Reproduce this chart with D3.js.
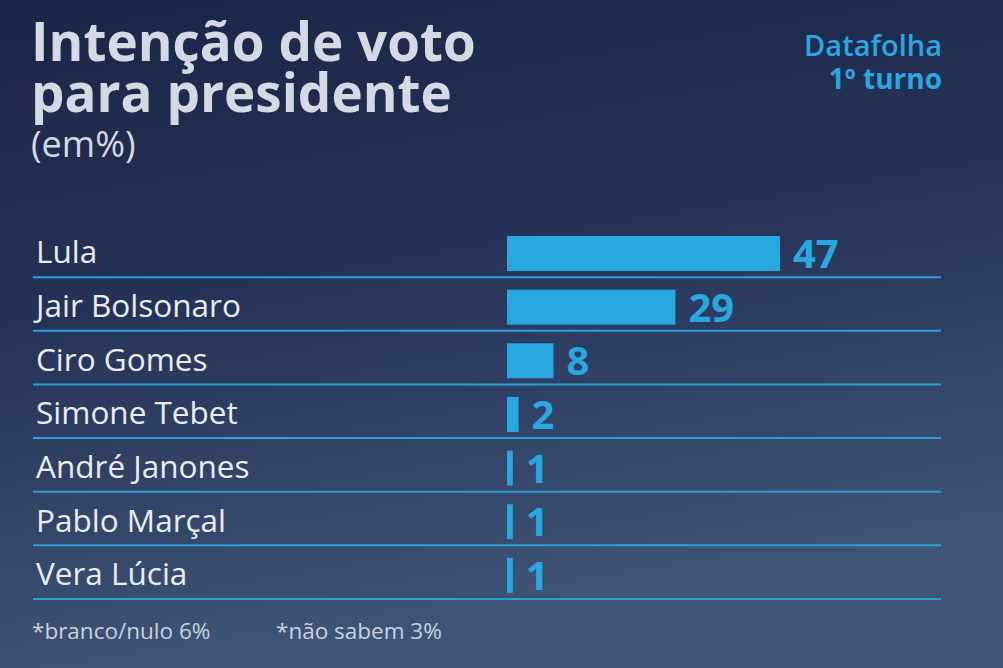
<!DOCTYPE html>
<html>
<head>
<meta charset="utf-8">
<script src="https://cdn.jsdelivr.net/npm/d3@7"></script>
<style>
  html, body { margin: 0; padding: 0; background: #1c2646; }
  svg { display: block; }
</style>
</head>
<body>
<svg id="chart" width="1003" height="668"></svg>
<script>
var candidates = ["Lula", "Jair Bolsonaro", "Ciro Gomes", "Simone Tebet", "André Janones", "Pablo Marçal", "Vera Lúcia"];
var votes = [47, 29, 8, 2, 1, 1, 1];
var footnotes = ["*branco/nulo 6%", "*não sabem 3%"];

var svg = d3.select("#chart"),
  width = +svg.attr("width"),
  height = +svg.attr("height");

var font = "'Open Sans', sans-serif";
var blue = "#28a8e0";

// background
var defs = svg.append("defs");
var grad = defs.append("linearGradient")
  .attr("id", "bg").attr("x1", 0).attr("y1", 0).attr("x2", 0.25).attr("y2", 1);
grad.append("stop").attr("offset", "0%").attr("stop-color", "#1b2546");
grad.append("stop").attr("offset", "45%").attr("stop-color", "#253257");
grad.append("stop").attr("offset", "100%").attr("stop-color", "#3f5577");
svg.append("rect").attr("width", width).attr("height", height).attr("fill", "url(#bg)");

// title
svg.append("text").attr("x", 31).attr("y", 61)
  .text("Intenção de voto")
  .attr("font-family", font).attr("font-weight", "bold").attr("font-size", "53px")
  .attr("fill", "#d5d9e3");
svg.append("text").attr("x", 31).attr("y", 112)
  .text("para presidente")
  .attr("font-family", font).attr("font-weight", "bold").attr("font-size", "53px")
  .attr("fill", "#d5d9e3");
svg.append("text").attr("x", 31).attr("y", 157)
  .text("(em%)")
  .attr("font-family", font).attr("font-size", "36px")
  .attr("fill", "#d5d9e3");

svg.append("text").attr("x", 942).attr("y", 56).attr("text-anchor", "end")
  .text("Datafolha")
  .attr("font-family", font).attr("font-weight", 600).attr("font-size", "29px")
  .attr("fill", blue);
svg.append("text").attr("x", 942).attr("y", 89).attr("text-anchor", "end")
  .text("1º turno")
  .attr("font-family", font).attr("font-weight", "bold").attr("font-size", "28px")
  .attr("fill", blue);

// scales
var x = d3.scaleLinear().domain([0, 47]).range([507, 780]);
var y = d3.scaleBand().domain(candidates).range([223.5, 599]);

var row = svg.selectAll(".row")
  .data(candidates.map(function(c, i) { return {name: c, value: votes[i]}; }))
  .enter().append("g")
  .attr("class", "row");

row.append("text")
  .attr("x", 36)
  .attr("y", function(d) { return y(d.name) + y.bandwidth() / 2 + 13; })
  .text(function(d) { return d.name; })
  .attr("font-family", font).attr("font-size", "31.5px")
  .attr("fill", "#e9edf3");

row.append("rect")
  .attr("x", x(0))
  .attr("y", function(d) { return y(d.name) + 12.5; })
  .attr("width", function(d) { return x(d.value) - x(0); })
  .attr("height", 35)
  .attr("fill", blue);

row.append("text")
  .attr("x", function(d) { return x(d.value) + 13; })
  .attr("y", function(d) { return y(d.name) + 12.5 + 32; })
  .text(function(d) { return d.value; })
  .attr("font-family", font).attr("font-weight", "bold").attr("font-size", "40px")
  .attr("fill", blue);

row.append("line")
  .attr("x1", 33).attr("x2", 941)
  .attr("y1", function(d) { return y(d.name) + y.bandwidth(); })
  .attr("y2", function(d) { return y(d.name) + y.bandwidth(); })
  .attr("stroke", "#2a9fd8").attr("stroke-width", 2);

// footnotes
svg.selectAll(".foot")
  .data(footnotes)
  .enter().append("text")
  .attr("class", "foot")
  .attr("x", function(d, i) { return i === 0 ? 32 : 276; })
  .attr("y", 639)
  .text(function(d) { return d; })
  .attr("font-family", font).attr("font-size", "22.5px")
  .attr("fill", "#c9d1de");
</script>
</body>
</html>
